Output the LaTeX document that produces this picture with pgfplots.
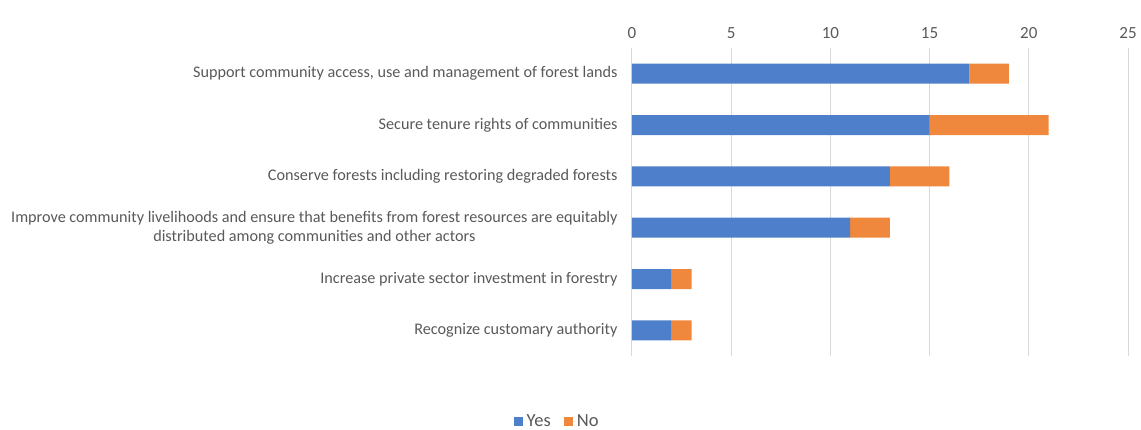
\documentclass[border=0pt]{standalone}
\usepackage{pgfplots}
\pgfplotsset{compat=1.18}
\usepackage{pgfplotstable}
\usepackage{fontspec}
\setmainfont{Carlito}
\definecolor{cblue}{HTML}{4E7FCA}
\definecolor{corange}{HTML}{EF883C}
\definecolor{tgray}{HTML}{595959}
\definecolor{ggray}{HTML}{D9D9D9}
\pgfplotstableread{
idx yes no
0 17 2
1 15 6
2 13 3
3 11 2
4 2 1
5 2 1
}\datatab
\begin{document}
\begin{tikzpicture}
\path[use as bounding box] (0,0) rectangle (1141pt,430pt);
\begin{axis}[
  at={(632pt,74pt)}, anchor=south west,
  scale only axis, width=496pt, height=308pt,
  xbar stacked, bar width=20pt,
  xmin=0, xmax=25, xtick={0,5,...,25},
  ymin=-0.5, ymax=5.5, y dir=reverse,
  ytick={0,...,5},
  yticklabels={{Support community access, use and management of forest lands},
    {Secure tenure rights of communities},
    {Conserve forests including restoring degraded forests},
    {Improve community livelihoods and ensure that benefits from forest resources are equitably\\distributed among communities and other actors},
    {Increase private sector investment in forestry},
    {Recognize customary authority}},
  yticklabel style={align=center, font=\fontsize{16.2}{19}\selectfont, text=tgray, xshift=-11pt},
  xticklabel pos=upper,
  xticklabel style={font=\fontsize{17}{19}\selectfont, text=tgray, yshift=6pt},
  /pgf/number format/assume math mode=true,
  major tick length=0pt,
  axis line style={draw=none},
  xmajorgrids, grid style={ggray, line width=1pt},
  legend style={at={(-0.151,0)}, anchor=center, yshift=-65pt, draw=none,
    legend columns=-1, font=\fontsize{18.5}{20}\selectfont, text=tgray,
    /tikz/every even column/.append style={column sep=11pt}},
  legend image code/.code={\path (0pt,0pt) -- (11pt,0pt);\fill[#1] (0pt,-4.5pt) rectangle (9pt,4.5pt);},
]
\addplot[fill=cblue, draw=none] table[x=yes, y=idx] {\datatab};
\addplot[fill=corange, draw=none] table[x=no, y=idx] {\datatab};
\legend{Yes, No}
\end{axis}
\end{tikzpicture}
\end{document}
